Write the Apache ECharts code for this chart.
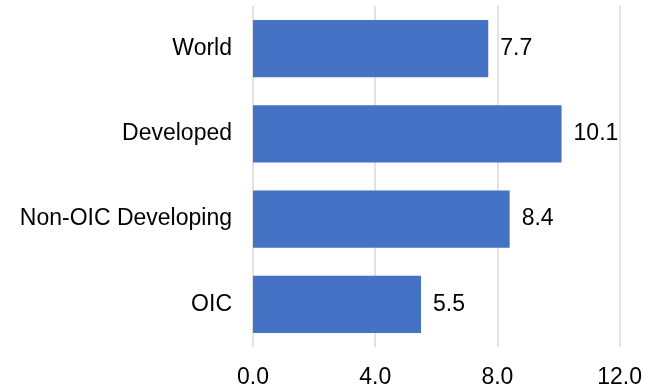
<!DOCTYPE html>
<html>
<head>
<meta charset="utf-8">
<script src="https://cdn.jsdelivr.net/npm/echarts@6/dist/echarts.min.js"></script>
<style>
  html, body { margin: 0; padding: 0; background: #ffffff; }
  #chart { width: 645px; height: 391px; }
</style>
</head>
<body>
<div id="chart"></div>
<script>
// Group names, listed bottom-to-top as the category axis draws them
const categories = ['OIC', 'Non-OIC Developing', 'Developed', 'World'];
const values = [5.5, 8.4, 10.1, 7.7];
const axisTicks = [0, 4, 8, 12];

const FONT = '"Liberation Sans", Arial, sans-serif';
const FONT_SIZE = 23;

const chart = echarts.init(document.getElementById('chart'), null, { renderer: 'canvas' });
chart.setOption({
  animation: false,
  backgroundColor: '#ffffff',
  grid: { left: 253, right: 25, top: 6, bottom: 44, containLabel: false },
  xAxis: {
    type: 'value',
    min: axisTicks[0],
    max: axisTicks[axisTicks.length - 1],
    interval: axisTicks[1] - axisTicks[0],
    axisLine: { show: false },
    axisTick: { show: false },
    splitLine: { show: true, lineStyle: { color: '#d9d9d9', width: 1.5 } },
    axisLabel: {
      margin: 19,
      fontFamily: FONT,
      fontSize: FONT_SIZE,
      color: '#000000',
      formatter: v => v.toFixed(1)
    }
  },
  yAxis: {
    type: 'category',
    data: categories,
    axisLine: { show: false },
    axisTick: { show: false },
    axisLabel: {
      margin: 21,
      fontFamily: FONT,
      fontSize: FONT_SIZE,
      color: '#000000'
    }
  },
  series: [{
    type: 'bar',
    data: values,
    barCategoryGap: '33%',
    itemStyle: { color: '#4472c4' },
    label: {
      show: true,
      position: 'right',
      distance: 12,
      fontFamily: FONT,
      fontSize: FONT_SIZE,
      color: '#000000',
      formatter: p => p.value.toFixed(1)
    }
  }]
});
</script>
</body>
</html>
